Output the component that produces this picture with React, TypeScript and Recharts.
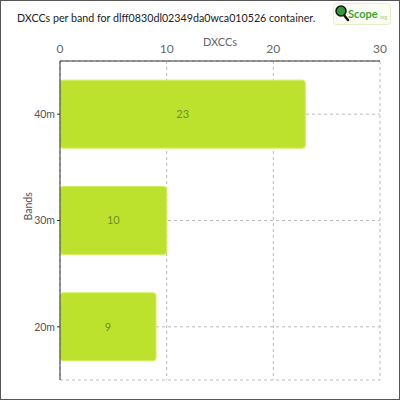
import React from "react";
import { BarChart, Bar, XAxis, YAxis, CartesianGrid, LabelList } from "recharts";

const bands = ["40m", "30m", "20m"];
const dxccs = [23, 10, 9];
const xTicks = [0, 10, 20, 30];

const data = bands.map((band, i) => ({ band, dxccs: dxccs[i] }));

const font = "Lato, 'DejaVu Sans', sans-serif";
const title = "DXCCs per band for dlff0830dl02349da0wca010526 container.";

// header: title on the left, the QScope logo on the right
function Header() {
  return (
    <svg width={400} height={30} style={{ position: "absolute", top: -1, left: -1 }}>
      <text x={17} y={22} fontSize={10.7} fill="#222" fontFamily={font}>
        {title}
      </text>
      <rect x={333.5} y={3.5} width={57} height={21} rx={3} fill="#fbfdf3" stroke="#e6ecc8" />
      <line x1={343} y1={14} x2={348} y2={20} stroke="#111" strokeWidth={2.5} strokeLinecap="round" />
      <circle cx={341} cy={11} r={5} fill="#2e9a3a" stroke="#111" strokeWidth={1.5} />
      <text x={348} y={18} fontSize={11} fontWeight={700} fill="#3aa63a" fontFamily={font}>
        Scope
      </text>
      <text x={379} y={19} fontSize={5} fill="#a8cf7a" fontFamily={font}>
        .org
      </text>
    </svg>
  );
}

export default function App() {
  return (
    <div
      style={{
        position: "absolute",
        top: 0,
        left: 0,
        width: 400,
        height: 400,
        boxSizing: "border-box",
        border: "1px solid #555",
        background: "#fff",
        fontFamily: font,
      }}
    >
      <Header />
      <div style={{ position: "absolute", top: -1, left: -1 }}>
        <BarChart
          width={400}
          height={400}
          data={data}
          layout="vertical"
          margin={{ top: 0, right: 20, bottom: 20, left: 0 }}
          barCategoryGap="18%"
        >
          <CartesianGrid stroke="#bbb" strokeDasharray="3 3" />
          <XAxis
            type="number"
            orientation="top"
            height={61}
            domain={[0, 30]}
            ticks={xTicks}
            tickLine={false}
            axisLine={{ stroke: "#333" }}
            tick={{ fontSize: 12, fill: "#666", fontFamily: font }}
            tickMargin={2}
            label={{
              value: "DXCCs",
              position: "insideTop",
              offset: 38,
              fill: "#666",
              fontSize: 11,
              fontFamily: font,
            }}
          />
          <YAxis
            type="category"
            dataKey="band"
            width={60}
            tickSize={3}
            tickLine={{ stroke: "#333" }}
            axisLine={{ stroke: "#333" }}
            tick={{ fontSize: 10.5, fill: "#555", fontFamily: font }}
            label={{
              value: "Bands",
              angle: -90,
              position: "insideLeft",
              offset: 28,
              fill: "#555",
              fontSize: 10.5,
              fontFamily: font,
            }}
          />
          <Bar
            dataKey="dxccs"
            fill="#bde22e"
            stroke="#d2ee62"
            strokeWidth={1}
            radius={3}
            isAnimationActive={false}
          >
            <LabelList
              dataKey="dxccs"
              position="center"
              fill="#6e8f2a"
              fontSize={11}
              fontFamily={font}
            />
          </Bar>
        </BarChart>
      </div>
    </div>
  );
}
